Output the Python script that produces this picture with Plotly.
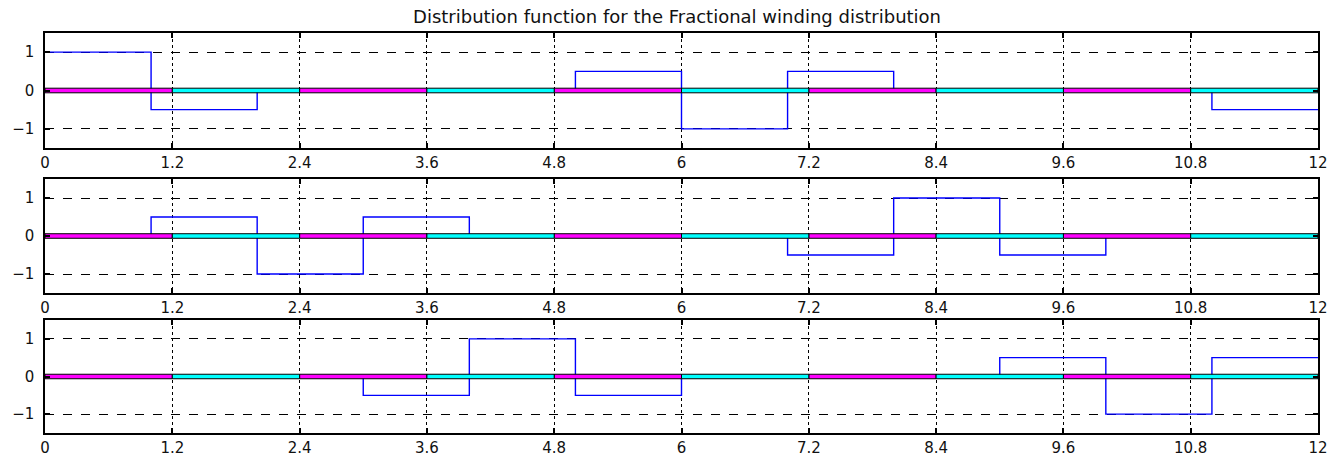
import plotly.graph_objects as go

# Slot boundaries (one unit per slot) and the per-slot distribution values
slot_edges = [0, 1, 2, 3, 4, 5, 6, 7, 8, 9, 10, 11, 12]
phase_a = [1, -0.5, 0, 0, 0, 0.5, -1, 0.5, 0, 0, 0, -0.5]
phase_b = [0, 0.5, -1, 0.5, 0, 0, 0, -0.5, 1, -0.5, 0, 0]
phase_c = [0, 0, 0, -0.5, 1, -0.5, 0, 0, 0, 0.5, -1, 0.5]

# Reference band segments along the zero line
band_edges = [0, 1.2, 2.4, 3.6, 4.8, 6, 7.2, 8.4, 9.6, 10.8, 12]

x_ticks = [0, 1.2, 2.4, 3.6, 4.8, 6, 7.2, 8.4, 9.6, 10.8, 12]
x_ticktext = ["0", "1.2", "2.4", "3.6", "4.8", "6", "7.2", "8.4", "9.6", "10.8", "12"]
y_ticks = [-1, 0, 1]

title = "Distribution function for the Fractional winding distribution"

W, H = 1338, 457
x_dom = [45 / W, 1318 / W]
panel_px = [(33, 148), (179, 293), (320, 433)]

fig = go.Figure()
band_half = 0.06
font = dict(family="DejaVu Sans, Arial, sans-serif", size=15, color="#111")

for i, vals in enumerate([phase_a, phase_b, phase_c]):
    n = "" if i == 0 else str(i + 1)
    xa, ya = "x" + n, "y" + n

    # step-shaped distribution
    fig.add_trace(go.Scatter(
        x=slot_edges, y=vals + [vals[-1]], mode="lines", line_shape="hv",
        line=dict(color="#0000ff", width=1.4), xaxis=xa, yaxis=ya,
        showlegend=False, hoverinfo="skip"))

    # alternating magenta / cyan band with black outline
    for k, color in enumerate(["#ff00ff", "#00ffff"]):
        bx, by = [], []
        for j in range(k, len(band_edges) - 1, 2):
            x0, x1 = band_edges[j], band_edges[j + 1]
            bx += [x0, x1, x1, x0, x0, None]
            by += [-band_half, -band_half, band_half, band_half, -band_half, None]
        fig.add_trace(go.Scatter(
            x=bx, y=by, mode="lines", fill="toself", fillcolor=color,
            line=dict(color="#000", width=1), xaxis=xa, yaxis=ya,
            showlegend=False, hoverinfo="skip"))

    top, bot = panel_px[i]
    common_axis = dict(showline=True, linecolor="#000", linewidth=1.5, mirror="ticks",
                       ticks="inside", ticklen=5, tickwidth=1.5, tickcolor="#000",
                       showgrid=True, gridcolor="#000", gridwidth=1, zeroline=False,
                       tickfont=font, automargin=False)
    fig.layout["xaxis" + n] = dict(
        domain=x_dom, range=[0, 12], anchor=ya, tickvals=x_ticks, ticktext=x_ticktext,
        griddash="dot", ticklabelstandoff=0, **common_axis)
    fig.layout["yaxis" + n] = dict(
        domain=[1 - bot / H, 1 - top / H], range=[-1.5, 1.5], anchor=xa,
        tickvals=y_ticks, griddash="dash", ticklabelstandoff=6, **common_axis)

fig.update_layout(
    width=W, height=H, margin=dict(l=0, r=0, t=0, b=0, autoexpand=False),
    paper_bgcolor="white", plot_bgcolor="white",
    title=dict(text=title, x=0.506, xanchor="center", y=1 - 17 / H, yanchor="middle",
               font=dict(family="DejaVu Sans, Arial, sans-serif", size=18, color="#111")),
)

fig.write_html("out.html")
